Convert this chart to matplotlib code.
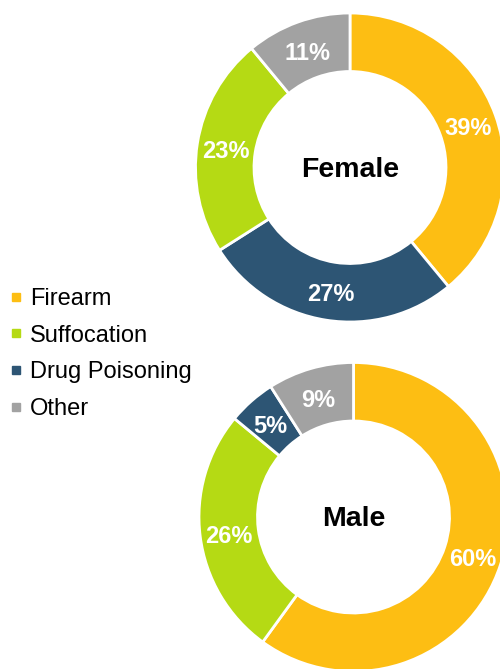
import matplotlib
matplotlib.use("Agg")
import matplotlib.pyplot as plt
from matplotlib.lines import Line2D

plt.rcParams['font.family'] = ['Liberation Sans', 'DejaVu Sans']

categories = ["Firearm", "Suffocation", "Drug Poisoning", "Other"]
colors = {"Firearm": "#FDBE13", "Suffocation": "#B5DA14",
          "Drug Poisoning": "#2D5574", "Other": "#A2A2A2"}

female_order = ["Firearm", "Drug Poisoning", "Suffocation", "Other"]
female_values = [39, 27, 23, 11]
male_order = ["Firearm", "Suffocation", "Drug Poisoning", "Other"]
male_values = [60, 26, 5, 9]

W, H = 500, 669
fig = plt.figure(figsize=(W / 100, H / 100), dpi=100)
ax = fig.add_axes([0, 0, 1, 1])

R = 154.5
width = 58.5

def donut(values, order, center, title):
    wedges, texts, autotexts = ax.pie(
        values, colors=[colors[c] for c in order], center=center, radius=R,
        startangle=90, counterclock=False, frame=True,
        wedgeprops=dict(width=width, edgecolor='white', linewidth=2),
        autopct=lambda p: f"{p:.0f}%", pctdistance=(R - width / 2) / R,
        textprops=dict(color='white', fontsize=17, fontweight='bold'))
    for t in autotexts:
        x, y = t.get_position()
        t.set_position((x, y - 10))
        t.set_va('baseline')
    ax.text(center[0], center[1] - 9.5, title, ha='center', va='baseline',
            fontsize=20.5, fontweight='bold', color='black')

donut(female_values, female_order, (350, H - 167.5), "Female")
donut(male_values, male_order, (353.5, H - 517), "Male")

ax.set_xlim(0, W)
ax.set_ylim(0, H)
ax.set_aspect('equal')
ax.axis('off')

handles = [Line2D([], [], marker='s', linestyle='none', markersize=5.5,
                  markerfacecolor=colors[c], markeredgecolor=colors[c])
           for c in categories]
fig.legend(handles, categories, loc='upper left',
           bbox_to_anchor=(0.006, 1 - 281 / H), frameon=False, fontsize=17,
           handlelength=0.5, handletextpad=0.35, labelspacing=0.62,
           borderpad=0.3, borderaxespad=0.0)

fig.savefig("out.png", dpi=100)
